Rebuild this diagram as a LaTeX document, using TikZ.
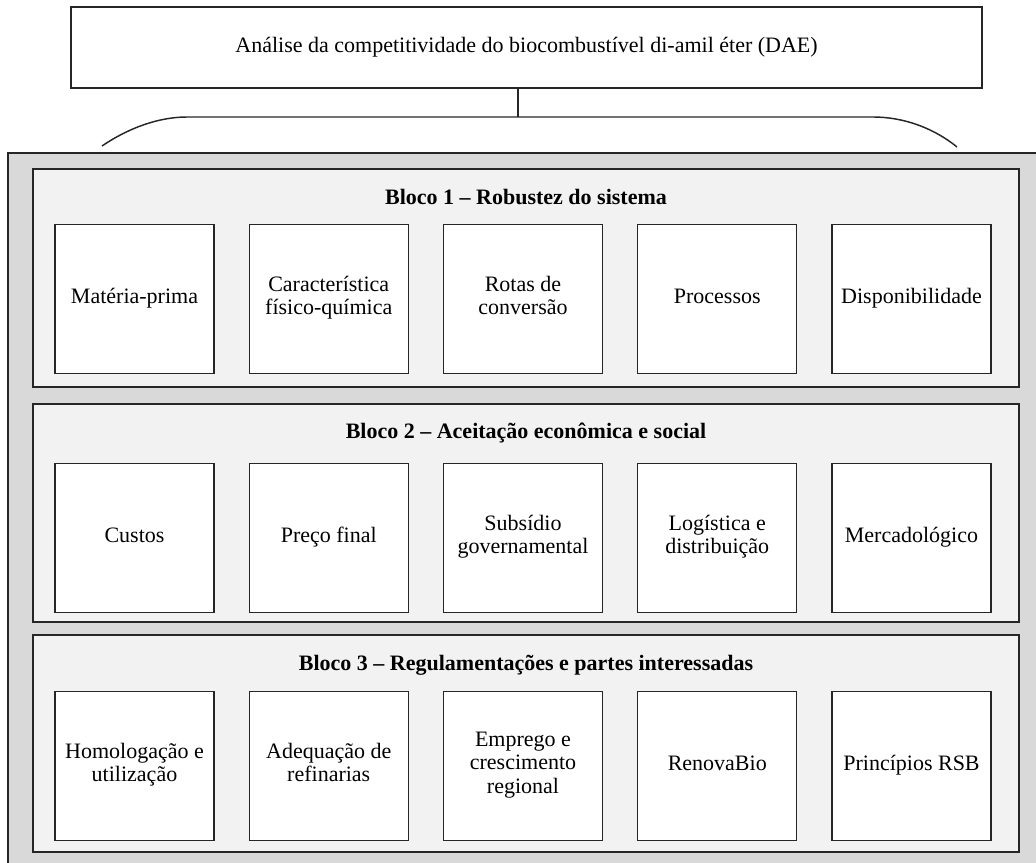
\documentclass[tikz,border=0pt]{standalone}
\usepackage{fontspec}
\setmainfont{Liberation Serif}
\definecolor{outerfill}{HTML}{D9D9D9}
\definecolor{blockfill}{HTML}{F2F2F2}
\definecolor{edge}{HTML}{262626}
\begin{document}
\begin{tikzpicture}[x=0.75pt,y=-0.75pt]

    \tikzset{
      item/.style={
        draw=edge,
        fill=white,
        line width=1.1pt,
        align=center,
        inner sep=2pt,
        minimum width=119.25pt,
        minimum height=111.5pt,
        font=\fontsize{16.5}{17.6}\selectfont,
        execute at begin node=\strut,
        execute at end node=\strut,
      },
      blockframe/.style={draw=edge, fill=blockfill, line width=1.1pt},
      blocktitle/.style={font=\fontsize{16.5}{17.6}\selectfont\bfseries},
    }
    \useasboundingbox (0,0) rectangle (1036,863);
    \clip (0,0) rectangle (1036,863);

	% topo
	\node[item, minimum width=683.25pt, minimum height=60.75pt] (top) at (526.5,47.5) {Análise da competitividade do biocombustível di-amil éter (DAE)};
	\coordinate (hub) at (518,117);
	\coordinate (hubL) at (187,117);
	\coordinate (hubR) at (873,117);
	\coordinate (endL) at (102,146);
	\coordinate (endR) at (957,147);
	\draw[color=edge, line width=1.1pt] (top.south -| hub)--(hub);
	\draw[color=edge, line width=1.1pt] (endL) .. controls (130,127) and (160,117) .. (hubL)--(hubR) .. controls (905,117) and (935,129) .. (endR);

	% moldura externa
	\draw[draw=edge, fill=outerfill, line width=1.1pt] (8,153) rectangle (1060,890);

	% blocos
	\draw[blockframe] (33,169) rectangle (1019,387);
	\draw[blockframe] (33,404) rectangle (1019,622);
	\draw[blockframe] (33,635) rectangle (1019,852);
	\node[blocktitle] (t1) at (526,197) {Bloco 1 – Robustez do sistema};
	\node[blocktitle] (t2) at (526,433) {Bloco 2 – Aceitação econômica e social};
	\node[blocktitle] (t3) at (526,665) {Bloco 3 – Regulamentações e partes interessadas};

	\foreach \lbl [count=\i] in {Matéria-prima, {Característica\\físico-química}, {Rotas de\\conversão}, Processos, Disponibilidade}
	  \node[item] (ba\i) at ({134.5+194.25*(\i-1)},299) {\lbl};
	\foreach \lbl [count=\i] in {Custos, Preço final, {Subsídio\\governamental}, {Logística e\\distribuição}, Mercadológico}
	  \node[item] (bb\i) at ({134.5+194.25*(\i-1)},538) {\lbl};
	\foreach \lbl [count=\i] in {{Homologação e\\utilização}, {Adequação de\\refinarias}, {Emprego e\\crescimento\\regional}, RenovaBio, Princípios RSB}
	  \node[item] (bc\i) at ({134.5+194.25*(\i-1)},766) {\lbl};

\end{tikzpicture}
\end{document}
